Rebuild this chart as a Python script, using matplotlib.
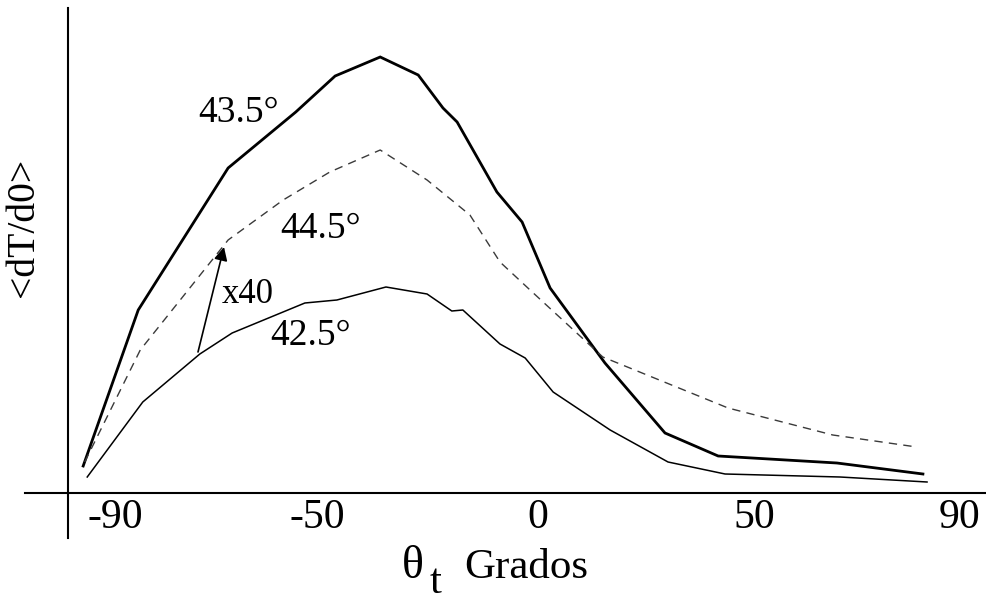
import numpy as np
import matplotlib
matplotlib.use("Agg")
import matplotlib.pyplot as plt
from matplotlib.scale import FuncScale

plt.rcParams['font.family'] = ['Liberation Serif', 'DejaVu Serif']

# ---- data (y in arbitrary units) ----
tick_vals = [-90, -50, 0, 50, 90]
tick_labels = ["-90", "-50", "0", "50", "90"]

theta_435 = [-96.3, -85.4, -67.6, -54.2, -45.9, -35.7, -27.1, -21.5, -18.3,
             -9.3, -3.6, 2.8, 15.5, 29.4, 41.7, 66.1, 82.8]
val_435 = [27, 183, 325, 381, 417, 436, 418, 385, 371,
           301, 271, 205, 130, 60, 37, 30, 19]

theta_445 = [-96.0, -85.0, -67.6, -56.7, -47.1, -35.7, -25.1, -15.4, -8.6,
             -1.8, 15.0, 44.0, 65.3, 81.6]
val_445 = [31, 143, 253, 293, 321, 343, 313, 278, 231,
           203, 136, 85, 58, 46]

theta_425 = [-95.5, -84.5, -73.2, -66.8, -52.4, -45.5, -34.4, -25.1, -19.5,
             -17.0, -8.6, -2.9, 3.5, 16.7, 30.1, 43.3, 66.7, 83.6]
val_425 = [16, 91, 139, 160, 190, 193, 206, 199, 182,
           183, 149, 135, 101, 63, 31, 19, 16, 11]

# ---- non-uniform horizontal scale (tick labels are unevenly spaced) ----
anchor_deg = np.array([-180.0, -90, -50, 0, 50, 90, 180])
anchor_pos = np.array([-339.5, 115, 317, 538, 754, 960, 1423.5])

def fwd(x):
    return np.interp(x, anchor_deg, anchor_pos)

def inv(p):
    return np.interp(p, anchor_pos, anchor_deg)

W, H = 987, 603
fig = plt.figure(figsize=(W / 100, H / 100), dpi=100)
ax = fig.add_axes([0, 0, 1, 1])
ax.set_xscale(FuncScale(ax, (fwd, inv)))
ax.set_xlim(inv(0), inv(W))
ax.set_ylim(-110, 493)

ax.plot(theta_435, val_435, color='black', lw=2.0, solid_joinstyle='miter')
ax.plot(theta_445, val_445, color='#3a3a3a', lw=1.0, dashes=(6, 4.5))
ax.plot(theta_425, val_425, color='black', lw=1.1)

# axes lines
for s in ['top', 'right']:
    ax.spines[s].set_visible(False)
ax.spines['bottom'].set_position(('data', 0))
ax.spines['bottom'].set_bounds(inv(25), inv(985))
ax.spines['bottom'].set_linewidth(1.5)
ax.spines['left'].set_position(('data', inv(68)))
ax.spines['left'].set_bounds(-45, 485)
ax.spines['left'].set_linewidth(1.5)

ax.set_xticks(tick_vals)
ax.set_xticklabels(tick_labels)
ax.tick_params(axis='x', length=0, pad=4, labelsize=30)
ax.set_yticks([])
ax.set_facecolor('white')
fig.patch.set_facecolor('white')

# curve labels
ax.text(inv(198), 371, "43.5°", fontsize=27, ha='left', va='baseline')
ax.text(inv(280), 255, "44.5°", fontsize=27, ha='left', va='baseline')
ax.text(inv(222), 190, "x40", fontsize=25, ha='left', va='baseline')
ax.text(inv(270), 148, "42.5°", fontsize=27, ha='left', va='baseline')

ax.annotate('', xy=(inv(224), 246), xytext=(inv(198), 141),
            arrowprops=dict(arrowstyle='-|>', lw=1.2, color='black',
                            mutation_scale=20, shrinkA=0, shrinkB=0))

# axis titles
fig.text(24 / W, 1 - 227 / H, "<dT/d0>", rotation=90, fontsize=28.5,
         ha='center', va='center')
fig.text(402 / W, 1 - 578 / H, "θ", fontsize=33, ha='left', va='baseline')
fig.text(430 / W, 1 - 593 / H, "t", fontsize=31, ha='left', va='baseline')
fig.text(464 / W, 1 - 578 / H, "Grados", fontsize=31, ha='left', va='baseline')

fig.savefig("out.png", dpi=100)
